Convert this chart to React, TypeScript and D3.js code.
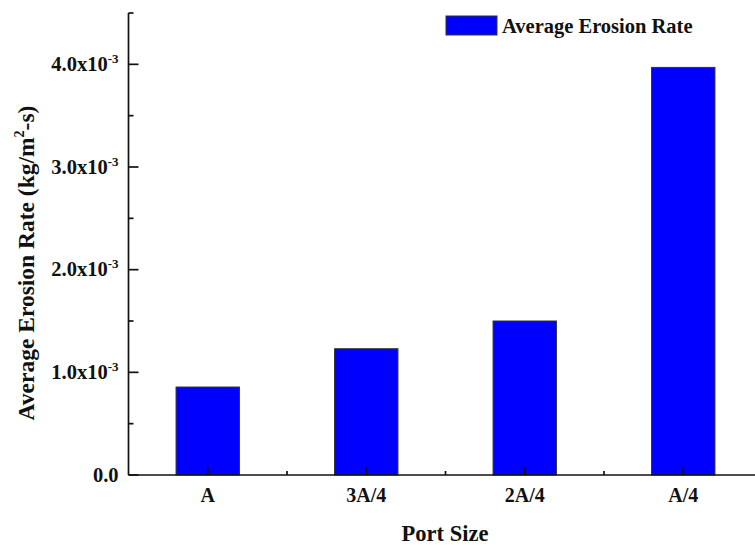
import { useEffect, useRef } from 'react';
import * as d3 from 'd3';

const categories = ['A', '3A/4', '2A/4', 'A/4'];
const erosionRates = [0.857e-3, 1.23e-3, 1.5e-3, 3.97e-3];
const yMajorTicks = [0, 1e-3, 2e-3, 3e-3, 4e-3];
const yMinorTicks = [0.5e-3, 1.5e-3, 2.5e-3, 3.5e-3, 4.5e-3];
const yTickLabels = ['0.0', '1.0x10', '2.0x10', '3.0x10', '4.0x10'];
const yTickExponents = ['', '-3', '-3', '-3', '-3'];
const seriesName = 'Average Erosion Rate';

const W = 755;
const H = 545;
const FONT = '"Liberation Serif", "Times New Roman", serif';

const App = () => {
  const svgRef = useRef<SVGSVGElement | null>(null);

  useEffect(() => {
    if (!svgRef.current) return;
    const svg = d3.select(svgRef.current);
    svg.selectAll('*').remove();

    const left = 128.5;
    const top = 13;
    const bottom = 475;
    const step = 158.5;

    const x = d3.scaleBand<string>()
      .domain(categories)
      .range([left, left + step * categories.length])
      .paddingInner(0.6)
      .paddingOuter(0.3);

    const y = d3.scaleLinear()
      .domain([0, 4.5e-3])
      .range([bottom, top]);

    const axisColor = '#111';
    const axisW = 1.7;

    // bars
    svg.append('g')
      .selectAll('rect')
      .data(erosionRates)
      .enter()
      .append('rect')
      .attr('x', (_, i) => x(categories[i]) as number)
      .attr('y', d => y(d))
      .attr('width', x.bandwidth())
      .attr('height', d => bottom - y(d))
      .attr('fill', '#0000ff')
      .attr('stroke', '#333')
      .attr('stroke-width', 1);

    // y axis line
    svg.append('line')
      .attr('x1', left).attr('x2', left)
      .attr('y1', top).attr('y2', bottom)
      .attr('stroke', axisColor).attr('stroke-width', axisW);

    // x axis line
    svg.append('line')
      .attr('x1', left).attr('x2', W)
      .attr('y1', bottom).attr('y2', bottom)
      .attr('stroke', axisColor).attr('stroke-width', axisW);

    // y ticks (inward)
    yMajorTicks.forEach(t => {
      svg.append('line')
        .attr('x1', left).attr('x2', left + 10)
        .attr('y1', y(t)).attr('y2', y(t))
        .attr('stroke', axisColor).attr('stroke-width', axisW);
    });
    yMinorTicks.forEach(t => {
      svg.append('line')
        .attr('x1', left).attr('x2', left + 5)
        .attr('y1', y(t)).attr('y2', y(t))
        .attr('stroke', axisColor).attr('stroke-width', axisW);
    });

    // y tick labels
    yMajorTicks.forEach((t, i) => {
      const txt = svg.append('text')
        .attr('x', left - 10)
        .attr('y', y(t) + 6.5)
        .attr('text-anchor', 'end')
        .style('font-family', FONT)
        .style('font-weight', 'bold')
        .style('font-size', '20.5px')
        .attr('fill', '#111');
      txt.append('tspan').text(yTickLabels[i]);
      if (yTickExponents[i]) {
        txt.append('tspan')
          .attr('dy', -8)
          .style('font-size', '13px')
          .text(yTickExponents[i]);
      }
    });

    // x ticks (inward)
    categories.forEach(c => {
      const cx = (x(c) as number) + x.bandwidth() / 2;
      svg.append('line')
        .attr('x1', cx).attr('x2', cx)
        .attr('y1', bottom).attr('y2', bottom - 8)
        .attr('stroke', axisColor).attr('stroke-width', axisW);
      svg.append('text')
        .attr('x', cx)
        .attr('y', 502)
        .attr('text-anchor', 'middle')
        .style('font-family', FONT)
        .style('font-weight', 'bold')
        .style('font-size', '20px')
        .attr('fill', '#111')
        .text(c);
    });
    categories.slice(1).forEach(c => {
      const mx = (x(c) as number) + x.bandwidth() / 2 - x.step() / 2;
      svg.append('line')
        .attr('x1', mx).attr('x2', mx)
        .attr('y1', bottom).attr('y2', bottom - 4)
        .attr('stroke', axisColor).attr('stroke-width', axisW);
    });
    const lastMinor = (x(categories[categories.length - 1]) as number) + x.bandwidth() / 2 + x.step() / 2;
    if (lastMinor < W) {
      svg.append('line')
        .attr('x1', lastMinor).attr('x2', lastMinor)
        .attr('y1', bottom).attr('y2', bottom - 4)
        .attr('stroke', axisColor).attr('stroke-width', axisW);
    }

    // axis titles
    svg.append('text')
      .attr('x', 445)
      .attr('y', 541)
      .attr('text-anchor', 'middle')
      .style('font-family', FONT)
      .style('font-weight', 'bold')
      .style('font-size', '22.5px')
      .attr('fill', '#111')
      .text('Port Size');

    const yl = svg.append('text')
      .attr('transform', 'translate(34,263) rotate(-90)')
      .attr('text-anchor', 'middle')
      .style('font-family', FONT)
      .style('font-weight', 'bold')
      .style('font-size', '23.5px')
      .attr('fill', '#111');
    yl.append('tspan').text('Average Erosion Rate (kg/m');
    yl.append('tspan').attr('dy', -10).style('font-size', '14px').text('2');
    yl.append('tspan').attr('dy', 10).text('-s)');

    // legend
    const lg = svg.append('g');
    lg.append('rect')
      .attr('x', 446).attr('y', 16)
      .attr('width', 51).attr('height', 19)
      .attr('fill', '#0000ff')
      .attr('stroke', '#333').attr('stroke-width', 1);
    lg.append('text')
      .attr('x', 502)
      .attr('y', 33)
      .style('font-family', FONT)
      .style('font-weight', 'bold')
      .style('font-size', '20.5px')
      .attr('fill', '#111')
      .text(seriesName);
  }, []);

  return (
    <svg
      ref={svgRef}
      width={W}
      height={H}
      style={{ position: 'absolute', left: 0, top: 0, background: '#fff' }}
    />
  );
};

export default App;
